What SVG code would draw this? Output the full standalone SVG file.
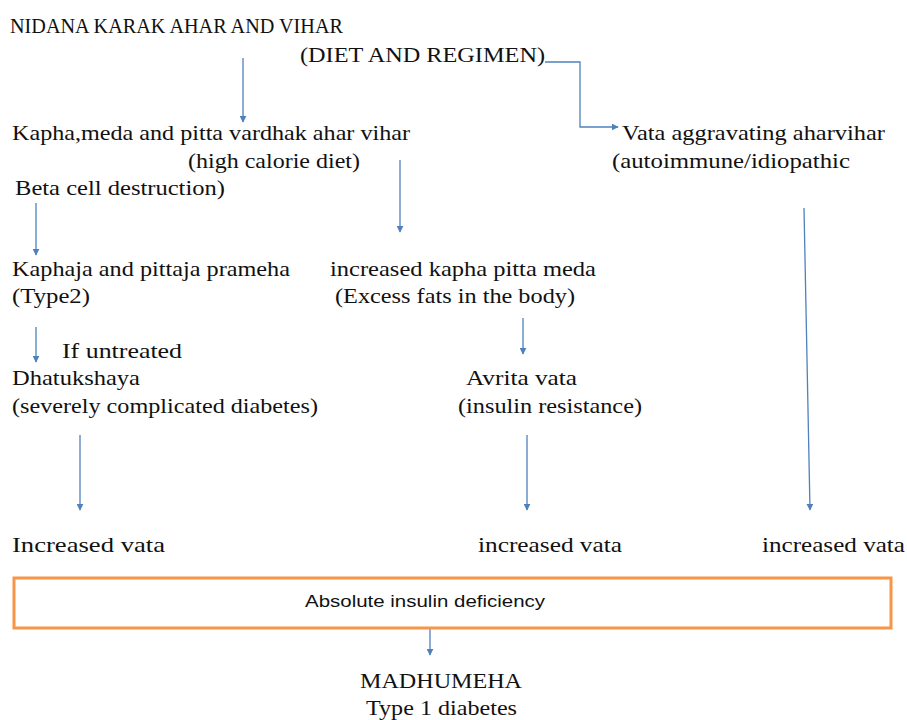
<svg xmlns="http://www.w3.org/2000/svg" width="907" height="720" viewBox="0 0 907 720">
<defs>
<marker id="ah" viewBox="0 0 10 10" refX="9" refY="5" markerWidth="7" markerHeight="7" markerUnits="userSpaceOnUse" orient="auto">
<path d="M0,0 L10,5 L0,10 z" fill="#4F81BD"/>
</marker>
<style>
text{font-family:"Liberation Serif","Times New Roman",serif;font-size:22px;fill:#111}
.s{font-family:"Liberation Sans Narrow","Liberation Sans",Arial,sans-serif;font-size:17px}
.c{stroke:#4F81BD;stroke-width:1.3;fill:none;marker-end:url(#ah)}
</style>
</defs>
<rect width="907" height="720" fill="#fff"/>
<g id="connectors">
<path class="c" d="M243,58 V122"/>
<path class="c" d="M545,62 H580 V127 H618"/>
<path class="c" d="M400,160 V232"/>
<path class="c" d="M36,203 V255"/>
<path class="c" d="M523,318 V354"/>
<path class="c" d="M36,327 V362"/>
<path class="c" d="M80,435 V510"/>
<path class="c" d="M527,435 V510"/>
<path class="c" d="M804,208 L810,510"/>
<path class="c" d="M430,629 V655"/>
</g>
<g id="n-root"><text x="10" y="33" textLength="333" lengthAdjust="spacingAndGlyphs">NIDANA KARAK AHAR AND VIHAR</text><text x="300" y="62" textLength="245" lengthAdjust="spacingAndGlyphs">(DIET AND REGIMEN)</text></g>
<g id="n-kapha"><text x="12" y="140" textLength="398" lengthAdjust="spacingAndGlyphs">Kapha,meda and pitta vardhak ahar vihar</text><text x="188" y="168" textLength="172" lengthAdjust="spacingAndGlyphs">(high calorie diet)</text></g>
<g id="n-vata"><text x="622" y="140" textLength="263" lengthAdjust="spacingAndGlyphs">Vata aggravating aharvihar</text><text x="612" y="168" textLength="238" lengthAdjust="spacingAndGlyphs">(autoimmune/idiopathic</text><text x="15" y="195" textLength="210" lengthAdjust="spacingAndGlyphs">Beta cell destruction)</text></g>
<g id="n-kaphaja"><text x="12" y="276" textLength="278" lengthAdjust="spacingAndGlyphs">Kaphaja and pittaja prameha</text><text x="12" y="303" textLength="78" lengthAdjust="spacingAndGlyphs">(Type2)</text></g>
<g id="n-incr"><text x="330" y="276" textLength="266" lengthAdjust="spacingAndGlyphs">increased kapha pitta meda</text><text x="335" y="303" textLength="240" lengthAdjust="spacingAndGlyphs">(Excess fats in the body)</text></g>
<g id="n-untreated"><text x="62" y="358" textLength="120" lengthAdjust="spacingAndGlyphs">If untreated</text></g>
<g id="n-dhatu"><text x="12" y="385" textLength="128" lengthAdjust="spacingAndGlyphs">Dhatukshaya</text><text x="12" y="413" textLength="306" lengthAdjust="spacingAndGlyphs">(severely complicated diabetes)</text></g>
<g id="n-avrita"><text x="466" y="385" textLength="111" lengthAdjust="spacingAndGlyphs">Avrita vata</text><text x="458" y="413" textLength="184" lengthAdjust="spacingAndGlyphs">(insulin resistance)</text></g>
<g id="n-iv1"><text x="12" y="552" textLength="153" lengthAdjust="spacingAndGlyphs">Increased vata</text></g>
<g id="n-iv2"><text x="478" y="552" textLength="144" lengthAdjust="spacingAndGlyphs">increased vata</text></g>
<g id="n-iv3"><text x="762" y="552" textLength="143" lengthAdjust="spacingAndGlyphs">increased vata</text></g>
<g id="n-abs"><rect x="14" y="578" width="877" height="50" fill="#fff" stroke="#F79646" stroke-width="3"/><text class="s" x="305" y="607" textLength="240" lengthAdjust="spacingAndGlyphs">Absolute insulin deficiency</text></g>
<g id="n-madhu"><text x="360" y="688" textLength="162" lengthAdjust="spacingAndGlyphs">MADHUMEHA</text><text x="366" y="715" textLength="151" lengthAdjust="spacingAndGlyphs">Type 1 diabetes</text></g>
</svg>
